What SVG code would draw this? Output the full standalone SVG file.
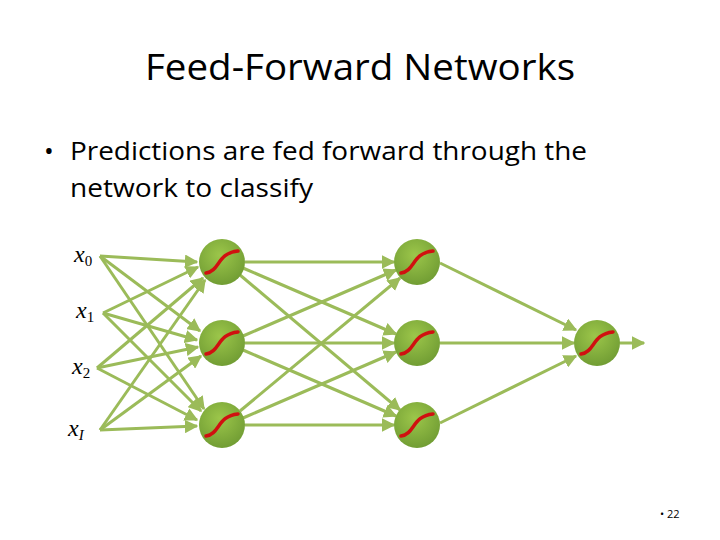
<svg xmlns="http://www.w3.org/2000/svg" width="720" height="540" viewBox="0 0 720 540">
<defs>
<marker id="ah" viewBox="0 0 10 10" refX="9" refY="5" markerWidth="4.5" markerHeight="4.5" orient="auto"><path d="M0,0 L10,5 L0,10 z" fill="#9bbb59"/></marker>
<radialGradient id="g" cx="0.45" cy="0.35" r="0.7"><stop offset="0" stop-color="#9cc64a"/><stop offset="1" stop-color="#6e9a32"/></radialGradient>
<symbol id="n" overflow="visible"><circle cx="0" cy="0" r="23" fill="url(#g)"/><path d="M-16,11 C-2,9 -5,-9 16,-11" fill="none" stroke="#d01010" stroke-width="3.5" stroke-linecap="round"/></symbol>
</defs>
<style>
.t{font-family:"Open Sans","Liberation Sans",Arial,sans-serif;fill:#000}
.m{font-family:"Liberation Serif","Times New Roman",serif;font-style:italic;font-size:24px}
.s{font-family:"Liberation Serif",serif;font-size:15px}
.c line{stroke:#9bbb59;stroke-width:3;marker-end:url(#ah)}
</style>
<rect width="720" height="540" fill="#fff"/>
<text class="t" x="145" y="80" font-size="36" textLength="430" lengthAdjust="spacingAndGlyphs">Feed-Forward Networks</text>
<text class="t" x="44" y="160" font-size="26">•</text>
<text class="t" x="70" y="160" font-size="26" textLength="517" lengthAdjust="spacingAndGlyphs">Predictions are fed forward through the</text>
<text class="t" x="70" y="197" font-size="26" textLength="243" lengthAdjust="spacingAndGlyphs">network to classify</text>
<g id="labels">
<text x="74" y="262" class="m">x<tspan class="s" font-style="normal" dy="4">0</tspan></text>
<text x="76" y="318" class="m">x<tspan class="s" font-style="normal" dy="4">1</tspan></text>
<text x="72" y="374" class="m">x<tspan class="s" font-style="normal" dy="4">2</tspan></text>
<text x="68" y="436" class="m">x<tspan class="s" dy="4">I</tspan></text>
</g>
<g id="connectors" class="c">
<line x1="100" y1="256" x2="197" y2="262"/><line x1="100" y1="256" x2="200" y2="331"/><line x1="100" y1="256" x2="204" y2="409"/>
<line x1="103" y1="313" x2="198" y2="267"/><line x1="103" y1="313" x2="197" y2="340"/><line x1="103" y1="313" x2="201" y2="411"/>
<line x1="97" y1="368" x2="203" y2="278"/><line x1="97" y1="368" x2="198" y2="347"/><line x1="97" y1="368" x2="197" y2="420"/>
<line x1="100" y1="430" x2="205" y2="280"/><line x1="100" y1="430" x2="201" y2="356"/><line x1="100" y1="430" x2="197" y2="426"/>
<line x1="245" y1="262" x2="394" y2="262"/><line x1="243" y1="268" x2="396" y2="334"/><line x1="240" y1="275" x2="400" y2="410"/>
<line x1="243" y1="336" x2="396" y2="270"/><line x1="245" y1="343" x2="394" y2="343"/><line x1="243" y1="350" x2="396" y2="416"/>
<line x1="240" y1="411" x2="400" y2="278"/><line x1="243" y1="418" x2="396" y2="352"/><line x1="245" y1="425" x2="394" y2="425"/>
<line x1="440" y1="263" x2="576" y2="330"/><line x1="440" y1="343" x2="574" y2="343"/><line x1="440" y1="423" x2="576" y2="356"/>
<line x1="620" y1="343" x2="644" y2="343"/>
</g>
<g id="h1a"><use href="#n" x="222" y="262"/></g>
<g id="h1b"><use href="#n" x="222" y="343"/></g>
<g id="h1c"><use href="#n" x="222" y="425"/></g>
<g id="h2a"><use href="#n" x="417" y="262"/></g>
<g id="h2b"><use href="#n" x="417" y="343"/></g>
<g id="h2c"><use href="#n" x="417" y="425"/></g>
<g id="out"><use href="#n" x="597" y="343"/></g>
<text class="t" x="660" y="518" font-size="11" fill="#888">• 22</text>
</svg>
